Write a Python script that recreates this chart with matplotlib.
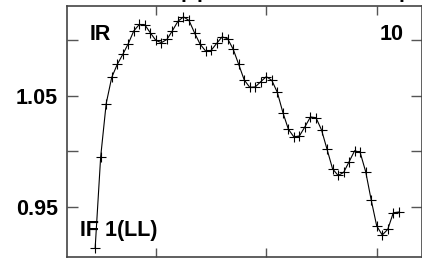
import matplotlib
matplotlib.use("Agg")
import matplotlib.pyplot as plt
import numpy as np

# channel numbers and normalised amplitude
channels = np.arange(9, 65)
amplitude = [
    0.9131, 0.9953, 1.0432, 1.0667, 1.0784, 1.0874, 1.0971, 1.1086, 1.1144, 1.1140,
    1.1068, 1.1000, 1.0980, 1.1009, 1.1088, 1.1173, 1.1212, 1.1180, 1.1068, 1.0967,
    1.0905, 1.0910, 1.0973, 1.1032, 1.1015, 1.0921, 1.0784, 1.0644, 1.0578, 1.0581,
    1.0629, 1.0674, 1.0640, 1.0532, 1.0351, 1.0200, 1.0131, 1.0140, 1.0223, 1.0311,
    1.0304, 1.0194, 1.0020, 0.9844, 0.9784, 0.9811, 0.9908, 1.0007, 0.9991, 0.9818,
    0.9563, 0.9329, 0.9248, 0.9299, 0.9448, 0.9455,
]
y_ticks = [0.95, 1.00, 1.05, 1.10]
y_labels = ["0.95", "", "1.05", ""]
x_ticks = [20, 40, 60]

plt.rcParams["font.family"] = ["Liberation Sans", "DejaVu Sans"]

fig = plt.figure(figsize=(4.22, 2.58), dpi=100)
ax = fig.add_axes([67 / 422, 1 / 258, 355 / 422, 251 / 258])

ax.plot(channels, amplitude, color="black", lw=0.8, marker="+",
        markersize=7.5, markeredgewidth=0.8)

ax.set_xlim(3.9, 68.2)
ax.set_ylim(0.905, 1.131)
ax.set_xticks(x_ticks)
ax.set_xticklabels([])
ax.set_yticks(y_ticks)
ax.set_yticklabels(y_labels, fontsize=15.5, fontweight="bold")
ax.tick_params(direction="in", length=6.5, width=1.0, color="#555555",
               top=True, right=True, pad=6.5)
ax.tick_params(axis="y", length=8)
for s in ax.spines.values():
    s.set_color("#444444")
    s.set_linewidth(1.2)

ax.text(0.065, 0.8645, "IR", transform=ax.transAxes, fontsize=15.5,
        fontweight="bold", va="baseline", ha="left")
ax.text(0.949, 0.8645, "10", transform=ax.transAxes, fontsize=15.5,
        fontweight="bold", va="baseline", ha="right")
ax.text(0.0366, 0.0837, "IF 1(LL)", transform=ax.transAxes, fontsize=15.5,
        fontweight="bold", va="baseline", ha="left")

# title sits above the visible area; only its descenders show
for px in (180.5, 196.5, 398.5):
    fig.text(px / 422, 1 + 2.5 / 258, "p", fontsize=15.5, fontweight="bold",
             va="baseline", ha="left")

fig.savefig("out.png", dpi=100)
